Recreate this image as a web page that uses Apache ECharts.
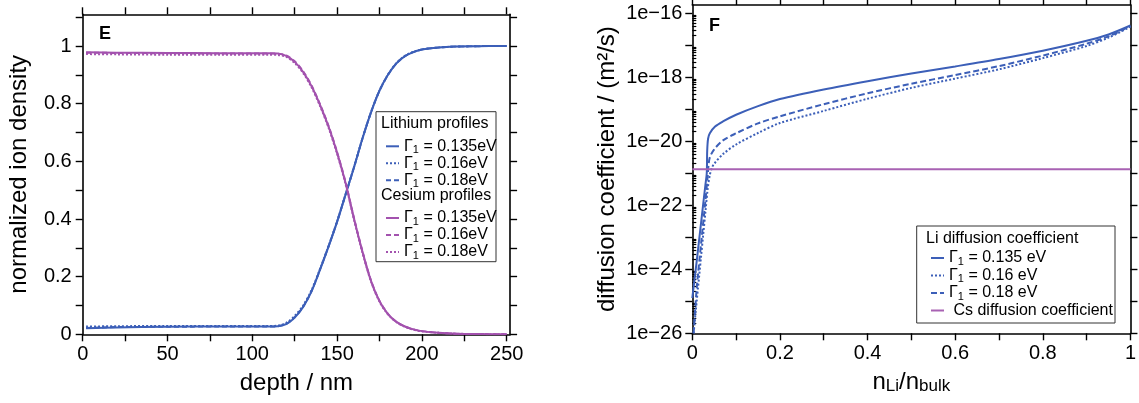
<!DOCTYPE html>
<html>
<head>
<meta charset="utf-8">
<script src="https://cdn.jsdelivr.net/npm/echarts@6/dist/echarts.min.js"></script>
<style>html,body{margin:0;padding:0;background:#fff}#c{width:1139px;height:403px}</style>
</head>
<body>
<div id="c"></div>
<script>
// ---------- Panel E : ion density profiles ----------
const depthNm = [2, 20, 50, 80, 110, 115, 120, 125, 130, 135, 140, 145, 150, 155, 160, 165, 170, 175, 180, 185, 190, 195, 200, 210, 220, 230, 240, 250];
const liE135 = [0.021, 0.024, 0.026, 0.027, 0.027, 0.028, 0.035, 0.058, 0.095, 0.15, 0.225, 0.305, 0.39, 0.485, 0.58, 0.68, 0.77, 0.845, 0.90, 0.94, 0.965, 0.979, 0.988, 0.995, 0.998, 0.999, 1.0, 1.0];
const liE16  = [0.027, 0.028, 0.029, 0.029, 0.029, 0.030, 0.040, 0.064, 0.100, 0.154, 0.228, 0.307, 0.392, 0.486, 0.581, 0.681, 0.771, 0.846, 0.901, 0.941, 0.966, 0.980, 0.988, 0.995, 0.998, 0.999, 1.0, 1.0];
const liE18  = [0.022, 0.025, 0.026, 0.027, 0.027, 0.028, 0.036, 0.059, 0.096, 0.151, 0.226, 0.306, 0.391, 0.485, 0.58, 0.68, 0.77, 0.845, 0.90, 0.94, 0.965, 0.979, 0.988, 0.995, 0.998, 0.999, 1.0, 1.0];
const csE135 = [0.978, 0.977, 0.976, 0.975, 0.975, 0.974, 0.966, 0.945, 0.91, 0.86, 0.795, 0.72, 0.63, 0.525, 0.40, 0.285, 0.185, 0.115, 0.07, 0.043, 0.027, 0.017, 0.011, 0.005, 0.002, 0.001, 0.0005, 0.0003];
const csE16  = [0.977, 0.976, 0.975, 0.974, 0.974, 0.973, 0.967, 0.947, 0.912, 0.862, 0.797, 0.722, 0.632, 0.527, 0.402, 0.287, 0.186, 0.116, 0.071, 0.043, 0.027, 0.017, 0.011, 0.005, 0.002, 0.001, 0.0005, 0.0003];
const csE18  = [0.972, 0.971, 0.970, 0.970, 0.970, 0.969, 0.962, 0.941, 0.906, 0.856, 0.791, 0.716, 0.626, 0.521, 0.397, 0.282, 0.183, 0.113, 0.069, 0.042, 0.026, 0.016, 0.010, 0.005, 0.002, 0.001, 0.0005, 0.0003];
const eXLabels = [0, 50, 100, 150, 200, 250];
const eXTicks = [0, 25, 50, 75, 100, 125, 150, 175, 200, 225, 250];
const eYLabels = [0, 0.2, 0.4, 0.6, 0.8, 1];
const eYTicks = [0, 0.1, 0.2, 0.3, 0.4, 0.5, 0.6, 0.7, 0.8, 0.9, 1.0, 1.1];

// ---------- Panel F : diffusion coefficients (log10 of m^2/s) ----------
const nRatio135 = [0, 0.01, 0.02, 0.03, 0.033, 0.034, 0.036, 0.04, 0.052, 0.07, 0.1, 0.15, 0.2, 0.3, 0.4, 0.5, 0.6, 0.7, 0.8, 0.9, 0.95, 1.0];
const logD135   = [-24.9, -23.75, -22.55, -21.35, -21.0, -20.3, -19.92, -19.75, -19.54, -19.38, -19.17, -18.9, -18.68, -18.38, -18.12, -17.88, -17.66, -17.43, -17.17, -16.86, -16.66, -16.38];
const nRatio18  = [0.003, 0.01, 0.02, 0.03, 0.035, 0.037, 0.04, 0.05, 0.07, 0.1, 0.15, 0.2, 0.3, 0.4, 0.5, 0.6, 0.7, 0.8, 0.9, 0.95, 1.0];
const logD18    = [-26.0, -24.6, -23.2, -21.85, -21.1, -20.75, -20.5, -20.25, -19.97, -19.75, -19.44, -19.22, -18.84, -18.5, -18.2, -17.93, -17.65, -17.32, -16.95, -16.72, -16.4];
const nRatio16  = [0.003, 0.01, 0.02, 0.025, 0.03, 0.035, 0.04, 0.045, 0.05, 0.07, 0.1, 0.15, 0.2, 0.3, 0.4, 0.5, 0.6, 0.7, 0.8, 0.9, 0.95, 1.0];
const logD16    = [-26.0, -25.0, -23.6, -22.9, -22.2, -21.5, -21.05, -20.82, -20.7, -20.4, -20.1, -19.74, -19.43, -19.05, -18.67, -18.33, -18.04, -17.75, -17.4, -17.02, -16.76, -16.42];
const nRatioCs  = [0, 1];
const logDCs    = [-20.875, -20.875];
const fXLabels = [0, 0.2, 0.4, 0.6, 0.8, 1];
const fXTicks = [0, 0.1, 0.2, 0.3, 0.4, 0.5, 0.6, 0.7, 0.8, 0.9, 1];
const fYLabels = [-26, -24, -22, -20, -18, -16];
const fYTicks = [-26, -25, -24, -23, -22, -21, -20, -19, -18, -17, -16];
const logMinorMultipliers = [2, 3, 4, 5, 6, 7, 8, 9];

const FONT = '"Liberation Sans", Arial, sans-serif';
const BLUE = '#3c5fb8';
const PURPLE = '#a352ae';
const PURPLE2 = '#a862b3';

const zip = (xs, ys) => xs.map((x, i) => [x, ys[i]]);
const fYMax = -15.74;
const fMinor = [];
fYTicks.forEach(d => logMinorMultipliers.forEach(m => { const v = d + Math.log10(m); if (v < fYMax) fMinor.push(v); }));

function frameAxis(extra) {
  return Object.assign({
    axisLine: { show: true, onZero: false, lineStyle: { color: '#000', width: 1.6 } },
    splitLine: { show: false },
    axisTick: { show: true, inside: false, length: 7, lineStyle: { color: '#000', width: 1.4 } },
    axisLabel: { show: false }
  }, extra);
}
const labelStyle = { color: '#000', fontFamily: FONT, fontSize: 20 };
const nameStyle = { color: '#000', fontFamily: FONT, fontSize: 24 };

const sub = s => s.replace(/Γ1(.*)$/, '{a|Γ}{b|1}{a|$1}');
const legendRich = {
  a: { fontFamily: FONT, fontSize: 16, color: '#000', lineHeight: 18 },
  b: { fontFamily: FONT, fontSize: 11, color: '#000', lineHeight: 11, verticalAlign: 'bottom' }
};

function lineSeries(name, data, color, type, xi, yi) {
  return {
    name, type: 'line', data, xAxisIndex: xi, yAxisIndex: yi,
    showSymbol: false, symbol: 'none', smooth: 0.3, animation: false,
    lineStyle: { color, width: 2, type },
    itemStyle: { color }
  };
}
function legendBlock(left, top, gap, names, fmt) {
  return { left, top, orient: 'vertical', itemWidth: 13, itemHeight: 10, itemGap: gap, z: 20,
    itemStyle: { opacity: 0, borderWidth: 0 },
    selectedMode: false, data: names, formatter: fmt, textStyle: { rich: legendRich } };
}

const chart = echarts.init(document.getElementById('c'), null, { renderer: 'canvas' });
chart.setOption({
  animation: false,
  backgroundColor: '#fff',
  grid: [
    { left: 82.7, top: 14.3, width: 427.4, height: 320 },
    { left: 692.3, top: 5, width: 439.4, height: 328.3 }
  ],
  xAxis: [
    frameAxis({ type: 'value', gridIndex: 0, min: 0, max: 252, position: 'bottom',
      axisTick: { show: true, inside: false, length: 7, customValues: eXTicks, lineStyle: { color: '#000', width: 1.4 } },
      axisLabel: Object.assign({ show: true, margin: 10, customValues: eXLabels }, labelStyle),
      name: 'depth / nm', nameLocation: 'middle', nameGap: 37, nameTextStyle: nameStyle }),
    frameAxis({ type: 'value', gridIndex: 0, min: 0, max: 252, position: 'top',
      axisTick: { show: true, inside: false, length: 7, customValues: eXTicks, lineStyle: { color: '#000', width: 1.4 } } }),
    frameAxis({ type: 'value', gridIndex: 1, min: 0, max: 1, position: 'bottom',
      axisTick: { show: true, inside: false, length: 7, customValues: fXTicks, lineStyle: { color: '#000', width: 1.4 } },
      axisLabel: Object.assign({ show: true, margin: 10, customValues: fXLabels }, labelStyle),
      name: '{a|n}{b|Li}{a|/n}{b|bulk}', nameLocation: 'middle', nameGap: 36,
      nameTextStyle: { rich: {
        a: { fontFamily: FONT, fontSize: 24, color: '#000', lineHeight: 26 },
        b: { fontFamily: FONT, fontSize: 17, color: '#000', lineHeight: 17, verticalAlign: 'bottom' } } } }),
    frameAxis({ type: 'value', gridIndex: 1, min: 0, max: 1, position: 'top',
      axisTick: { show: true, inside: false, length: 7, customValues: fXTicks, lineStyle: { color: '#000', width: 1.4 } } })
  ],
  yAxis: [
    frameAxis({ type: 'value', gridIndex: 0, min: 0, max: 1.11, position: 'left',
      axisTick: { show: true, inside: false, length: 7, customValues: eYTicks, lineStyle: { color: '#000', width: 1.4 } },
      axisLabel: Object.assign({ show: true, margin: 11, customValues: eYLabels }, labelStyle),
      name: 'normalized ion density', nameLocation: 'middle', nameGap: 51, nameTextStyle: nameStyle }),
    frameAxis({ type: 'value', gridIndex: 0, min: 0, max: 1.11, position: 'right',
      axisTick: { show: true, inside: false, length: 7, customValues: eYTicks, lineStyle: { color: '#000', width: 1.4 } } }),
    frameAxis({ type: 'value', gridIndex: 1, min: -26, max: fYMax, position: 'left',
      axisTick: { show: true, inside: false, length: 7, customValues: fYTicks, lineStyle: { color: '#000', width: 1.4 } },
      axisLabel: Object.assign({ show: true, margin: 10, customValues: fYLabels,
        formatter: v => '1e' + (v < 0 ? '\u2212' + (-v) : v) }, labelStyle),
      name: 'diffusion coefficient / (m\u00b2/s)', nameLocation: 'middle', nameGap: 73, nameTextStyle: nameStyle }),
    frameAxis({ type: 'value', gridIndex: 1, min: -26, max: fYMax, position: 'right',
      axisTick: { show: true, inside: false, length: 7, customValues: fYTicks, lineStyle: { color: '#000', width: 1.4 } } }),
    frameAxis({ type: 'value', gridIndex: 1, min: -26, max: fYMax, position: 'right',
      axisLine: { show: false },
      axisTick: { show: true, inside: false, length: 4, customValues: fMinor, lineStyle: { color: '#000', width: 1.2 } } })
  ],
  legend: [
    legendBlock(380, 133.3, 0, ['Li Γ1 = 0.135eV', 'Li Γ1 = 0.16eV', 'Li Γ1 = 0.18eV'], n => sub(n.slice(3))),
    legendBlock(380, 205, 0, ['Cs Γ1 = 0.135eV', 'Cs Γ1 = 0.16eV', 'Cs Γ1 = 0.18eV'], n => sub(n.slice(3))),
    legendBlock(925, 245, 0.5, ['D Γ1 = 0.135 eV', 'D Γ1 = 0.16 eV', 'D Γ1 = 0.18 eV', 'Cs diffusion coefficient'],
      n => n.startsWith('D ') ? sub(n.slice(2)) : '{a| ' + n + '}')
  ],
  graphic: [
    { type: 'rect', shape: { x: 376, y: 111.7, width: 120, height: 150 }, style: { fill: '#fff', stroke: '#333', lineWidth: 1 }, z: 5 },
    { type: 'text', x: 381, y: 124, style: { text: 'Lithium profiles', font: '16px ' + FONT, fill: '#000', verticalAlign: 'middle' }, z: 21 },
    { type: 'text', x: 381, y: 195.7, style: { text: 'Cesium profiles', font: '16px ' + FONT, fill: '#000', verticalAlign: 'middle' }, z: 21 },
    { type: 'rect', shape: { x: 916.7, y: 226, width: 198.3, height: 97 }, style: { fill: '#fff', stroke: '#333', lineWidth: 1 }, z: 5 },
    { type: 'text', x: 926, y: 238.3, style: { text: 'Li diffusion coefficient', font: '16px ' + FONT, fill: '#000', verticalAlign: 'middle' }, z: 21 },
    { type: 'text', x: 99, y: 34.5, style: { text: 'E', font: 'bold 18px ' + FONT, fill: '#000', verticalAlign: 'middle' }, z: 21 },
    { type: 'text', x: 709, y: 26.5, style: { text: 'F', font: 'bold 18px ' + FONT, fill: '#000', verticalAlign: 'middle' }, z: 21 }
  ],
  series: [
    lineSeries('Li Γ1 = 0.135eV', zip(depthNm, liE135), BLUE, 'solid', 0, 0),
    lineSeries('Li Γ1 = 0.16eV', zip(depthNm, liE16), BLUE, [2, 2], 0, 0),
    lineSeries('Li Γ1 = 0.18eV', zip(depthNm, liE18), BLUE, [5, 3], 0, 0),
    lineSeries('Cs Γ1 = 0.135eV', zip(depthNm, csE135), PURPLE, 'solid', 0, 0),
    lineSeries('Cs Γ1 = 0.16eV', zip(depthNm, csE16), PURPLE, [5, 3], 0, 0),
    lineSeries('Cs Γ1 = 0.18eV', zip(depthNm, csE18), PURPLE, [2, 2], 0, 0),
    lineSeries('D Γ1 = 0.135 eV', zip(nRatio135, logD135), BLUE, 'solid', 2, 2),
    lineSeries('D Γ1 = 0.16 eV', zip(nRatio16, logD16), BLUE, [2, 2], 2, 2),
    lineSeries('D Γ1 = 0.18 eV', zip(nRatio18, logD18), BLUE, [6, 3], 2, 2),
    lineSeries('Cs diffusion coefficient', zip(nRatioCs, logDCs), PURPLE2, 'solid', 2, 2)
  ]
});
</script>
</body>
</html>
